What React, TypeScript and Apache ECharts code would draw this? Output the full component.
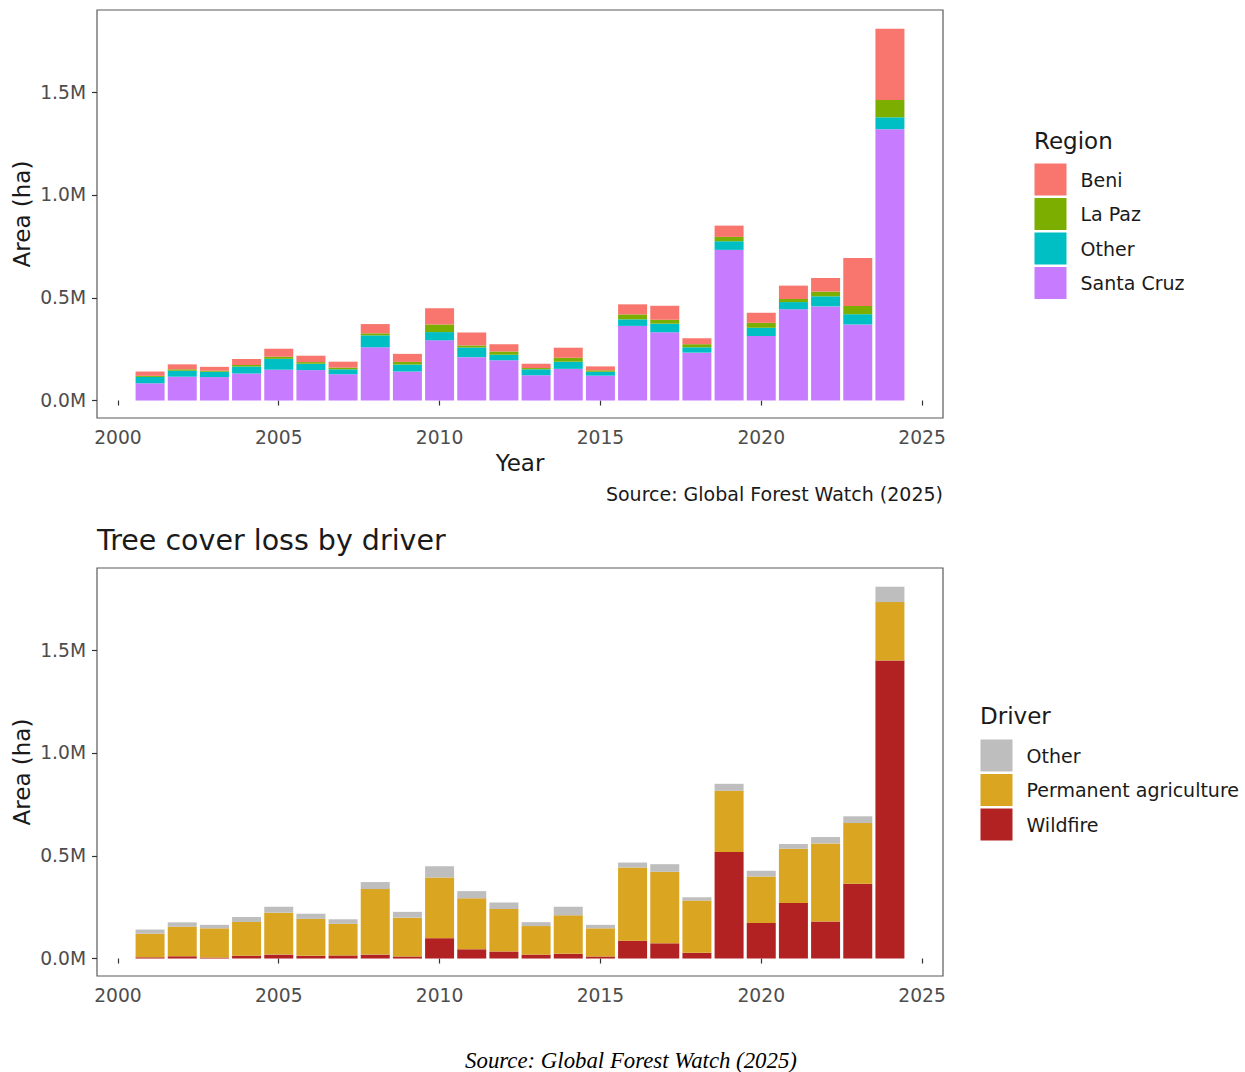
import { useEffect, useRef } from 'react';
import * as echarts from 'echarts';

// tree cover loss in Bolivia, hectares per year
const years = [
  2001, 2002, 2003, 2004, 2005, 2006, 2007, 2008, 2009, 2010, 2011, 2012,
  2013, 2014, 2015, 2016, 2017, 2018, 2019, 2020, 2021, 2022, 2023, 2024,
];

// by region (stack order bottom -> top: Santa Cruz, Other, La Paz, Beni)
const santaCruz = [
  84000, 116000, 114000, 131000, 150000, 148000, 128000, 259000, 141000, 293000, 211000, 196000,
  123000, 154000, 121000, 363000, 332000, 233000, 733000, 314000, 444000, 458000, 370000, 1320000,
];
const regionOther = [
  31000, 29000, 26000, 34000, 53000, 31000, 24000, 58000, 34000, 40000, 47000, 27000,
  29000, 35000, 19000, 32000, 42000, 26000, 42000, 40000, 35000, 49000, 50000, 58000,
];
const laPaz = [
  5000, 7000, 5000, 8000, 10000, 8000, 8000, 10000, 13000, 37000, 10000, 15000,
  6000, 19000, 7000, 24000, 19000, 15000, 21000, 24000, 15000, 23000, 40000, 84000,
];
const beni = [
  21000, 24000, 19000, 29000, 39000, 31000, 29000, 45000, 39000, 79000, 63000, 36000,
  21000, 49000, 19000, 49000, 68000, 29000, 55000, 49000, 65000, 66000, 234000, 347000,
];

// by driver (stack order bottom -> top: Wildfire, Permanent agriculture, Other)
const wildfire = [
  6000, 11000, 5000, 13000, 19000, 13000, 15000, 19000, 10000, 99000, 45000, 34000,
  19000, 23000, 10000, 87000, 74000, 28000, 518000, 173000, 270000, 180000, 364000, 1450000,
];
const permanentAgriculture = [
  115000, 144000, 142000, 165000, 204000, 180000, 154000, 319000, 189000, 295000, 248000, 207000,
  139000, 187000, 137000, 356000, 348000, 254000, 298000, 226000, 264000, 380000, 295000, 284000,
];
const driverOther = [
  20000, 21000, 17000, 24000, 29000, 25000, 22000, 34000, 28000, 55000, 35000, 32000,
  19000, 42000, 17000, 24000, 37000, 16000, 34000, 28000, 23000, 31000, 33000, 75000,
];

const xTicks = [2000, 2005, 2010, 2015, 2020, 2025];
const yTicks = [0, 500000, 1000000, 1500000];

const FONT = 'DejaVu Sans';
const W = 1245;

function axes(gridTop: number) {
  return {
    grid: {
      left: 97,
      top: gridTop,
      width: 846,
      height: 408,
      show: true,
      borderColor: '#5a5a5a',
      borderWidth: 1.2,
      backgroundColor: '#fff',
    },
    xAxis: {
      type: 'value',
      min: 1999.35,
      max: 2025.65,
      splitLine: { show: false },
      axisLine: { show: false },
      axisTick: { show: true, length: 5, customValues: xTicks, lineStyle: { color: '#333', width: 1.2 } },
      axisLabel: {
        customValues: xTicks,
        margin: 10,
        fontSize: 18.7,
        fontFamily: FONT,
        color: '#4d4d4d',
        formatter: (v: number) => String(v),
      },
    },
    yAxis: {
      type: 'value',
      min: -85000,
      max: 1900000,
      splitLine: { show: false },
      axisLine: { show: false },
      axisTick: { show: true, length: 5, customValues: yTicks, lineStyle: { color: '#333', width: 1.2 } },
      axisLabel: {
        customValues: yTicks,
        margin: 11,
        fontSize: 18.7,
        fontFamily: FONT,
        color: '#4d4d4d',
        formatter: (v: number) => (v / 1e6).toFixed(1) + 'M',
      },
    },
  };
}

// value first so that the stack runs on the area, year second for the x axis
const bar = (name: string, values: number[], color: string) => ({
  type: 'bar',
  name,
  stack: 'total',
  barWidth: 29,
  itemStyle: { color },
  emphasis: { disabled: true },
  encode: { x: 1, y: 0 },
  data: years.map((y, i) => [values[i], y]),
});

const text = (t: string, x: number, y: number, size: number, extra: Record<string, unknown> = {}) => ({
  type: 'text',
  x,
  y,
  ...('rotation' in extra ? { rotation: extra.rotation } : {}),
  style: {
    text: t,
    fontSize: size,
    fontFamily: FONT,
    fill: '#1a1a1a',
    align: 'left',
    verticalAlign: 'middle',
    textAlign: 'left',
    textVerticalAlign: 'middle',
    ...(extra.style as object),
  },
});

const legend = (left: number, top: number, names: string[]) => ({
  orient: 'vertical',
  left,
  top,
  padding: 0,
  itemWidth: 32,
  itemHeight: 32,
  itemGap: 2.5,
  icon: 'rect',
  selectedMode: false,
  data: names,
  textStyle: { fontSize: 19, fontFamily: FONT, color: '#1a1a1a', padding: [0, 0, 0, 9] },
});

function regionOption() {
  return {
    animation: false,
    ...axes(10),
    legend: legend(1034.5, 163.5, ['Beni', 'La Paz', 'Other', 'Santa Cruz']),
    series: [
      bar('Santa Cruz', santaCruz, '#C77CFF'),
      bar('Other', regionOther, '#00BFC4'),
      bar('La Paz', laPaz, '#7CAE00'),
      bar('Beni', beni, '#F8766D'),
    ],
    graphic: [
      text('Area (ha)', 22, 214, 23, { rotation: Math.PI / 2, style: { align: 'center', textAlign: 'center' } }),
      text('Year', 520, 463, 23, { style: { align: 'center', textAlign: 'center' } }),
      text('Source: Global Forest Watch (2025)', 943, 494, 19, { style: { align: 'right', textAlign: 'right' } }),
      text('Region', 1034, 141, 23),
    ],
  };
}

function driverOption() {
  return {
    animation: false,
    ...axes(58),
    legend: legend(980.5, 229.5, ['Other', 'Permanent agriculture', 'Wildfire']),
    series: [
      bar('Wildfire', wildfire, '#B22222'),
      bar('Permanent agriculture', permanentAgriculture, '#DAA520'),
      bar('Other', driverOther, '#BEBEBE'),
    ],
    graphic: [
      text('Tree cover loss by driver', 97, 30, 28.5),
      text('Area (ha)', 22, 262, 23, { rotation: Math.PI / 2, style: { align: 'center', textAlign: 'center' } }),
      text('Driver', 980, 206, 23),
      text('Source: Global Forest Watch (2025)', 631, 550, 22.8, {
        style: {
          align: 'center',
          textAlign: 'center',
          fontFamily: 'Liberation Serif',
          fontStyle: 'italic',
          fill: '#000',
        },
      }),
    ],
  };
}

function Chart({ height, build }: { height: number; build: () => any }) {
  const ref = useRef<HTMLDivElement>(null);

  useEffect(() => {
    if (!ref.current) return;
    const chart = echarts.init(ref.current, undefined, { renderer: 'svg' });
    chart.setOption(build());
    return () => chart.dispose();
  }, [build]);

  return <div ref={ref} style={{ width: W, height }} />;
}

export default function App() {
  return (
    <div style={{ position: 'absolute', left: 0, top: 0, width: W, background: '#fff' }}>
      <Chart height={510} build={regionOption} />
      <Chart height={562} build={driverOption} />
    </div>
  );
}
